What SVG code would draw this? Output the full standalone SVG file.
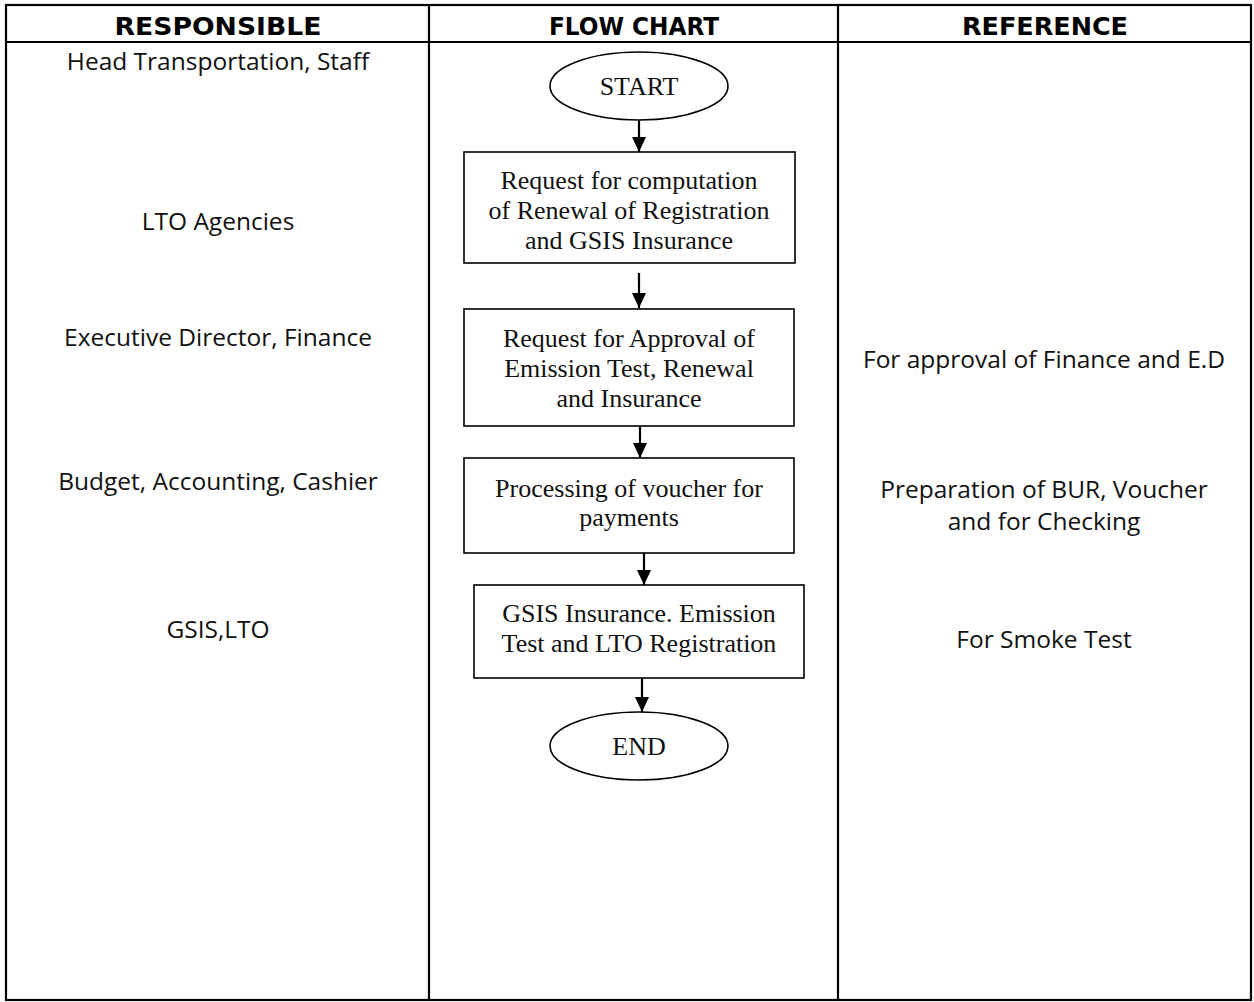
<svg xmlns="http://www.w3.org/2000/svg" width="1254" height="1002" viewBox="0 0 1254 1002">
<style>
.grid{stroke:#000;stroke-width:2.2;fill:none}
.hdr{font-family:"DejaVu Sans",Verdana,sans-serif;font-weight:bold;font-size:25px;text-anchor:middle;fill:#000}
.lbl{font-family:"Open Sans","Liberation Sans",sans-serif;font-size:24.5px;text-anchor:middle;fill:#111}
.box{fill:#fff;stroke:#000;stroke-width:1.6}
.nt{font-family:"Liberation Serif","Times New Roman",serif;font-size:26px;text-anchor:middle;fill:#111}
.conn{stroke:#000;stroke-width:2.2;fill:none}
</style>
<defs>
<marker id="ah" markerUnits="userSpaceOnUse" markerWidth="15" markerHeight="15" refX="15" refY="7" orient="auto">
<path d="M0,0 L15,7 L0,14 z" fill="#000"/>
</marker>
</defs>
<rect width="1254" height="1002" fill="#fff"/>
<g id="table">
<rect class="grid" x="6" y="5" width="1245" height="995"/>
<line class="grid" x1="6" y1="42" x2="1251" y2="42"/>
<line class="grid" x1="429" y1="5" x2="429" y2="1000"/>
<line class="grid" x1="838" y1="5" x2="838" y2="1000"/>
<text class="hdr" x="218" y="35" textLength="207" lengthAdjust="spacingAndGlyphs">RESPONSIBLE</text>
<text class="hdr" x="634" y="35" textLength="170" lengthAdjust="spacingAndGlyphs">FLOW CHART</text>
<text class="hdr" x="1045" y="35" textLength="166" lengthAdjust="spacingAndGlyphs">REFERENCE</text>
</g>
<g id="responsible">
<text class="lbl" x="218" y="70">Head Transportation, Staff</text>
<text class="lbl" x="218" y="230">LTO Agencies</text>
<text class="lbl" x="218" y="346">Executive Director, Finance</text>
<text class="lbl" x="218" y="490">Budget, Accounting, Cashier</text>
<text class="lbl" x="218" y="638">GSIS,LTO</text>
</g>
<g id="reference">
<text class="lbl" x="1044" y="368">For approval of Finance and E.D</text>
<text class="lbl" x="1044" y="498">Preparation of BUR, Voucher</text>
<text class="lbl" x="1044" y="530">and for Checking</text>
<text class="lbl" x="1044" y="648">For Smoke Test</text>
</g>
<g id="connectors">
<line class="conn" x1="639" y1="120" x2="639" y2="152" marker-end="url(#ah)"/>
<line class="conn" x1="639" y1="273" x2="639" y2="308" marker-end="url(#ah)"/>
<line class="conn" x1="640" y1="426" x2="640" y2="458" marker-end="url(#ah)"/>
<line class="conn" x1="644" y1="553" x2="644" y2="585" marker-end="url(#ah)"/>
<line class="conn" x1="642" y1="678" x2="642" y2="712" marker-end="url(#ah)"/>
</g>
<g id="start">
<ellipse class="box" cx="639" cy="86" rx="89" ry="34"/>
<text class="nt" x="639" y="95">START</text>
</g>
<g id="step1">
<rect class="box" x="464" y="152" width="331" height="111"/>
<text class="nt" x="629" y="189">Request for computation</text>
<text class="nt" x="629" y="219">of Renewal of Registration</text>
<text class="nt" x="629" y="249">and GSIS Insurance</text>
</g>
<g id="step2">
<rect class="box" x="464" y="309" width="330" height="117"/>
<text class="nt" x="629" y="347">Request for Approval of</text>
<text class="nt" x="629" y="377">Emission Test, Renewal</text>
<text class="nt" x="629" y="407">and Insurance</text>
</g>
<g id="step3">
<rect class="box" x="464" y="458" width="330" height="95"/>
<text class="nt" x="629" y="497">Processing of voucher for</text>
<text class="nt" x="629" y="526">payments</text>
</g>
<g id="step4">
<rect class="box" x="474" y="585" width="330" height="93"/>
<text class="nt" x="639" y="622">GSIS Insurance. Emission</text>
<text class="nt" x="639" y="652">Test and LTO Registration</text>
</g>
<g id="end">
<ellipse class="box" cx="639" cy="746" rx="89" ry="34"/>
<text class="nt" x="639" y="755">END</text>
</g>
</svg>
